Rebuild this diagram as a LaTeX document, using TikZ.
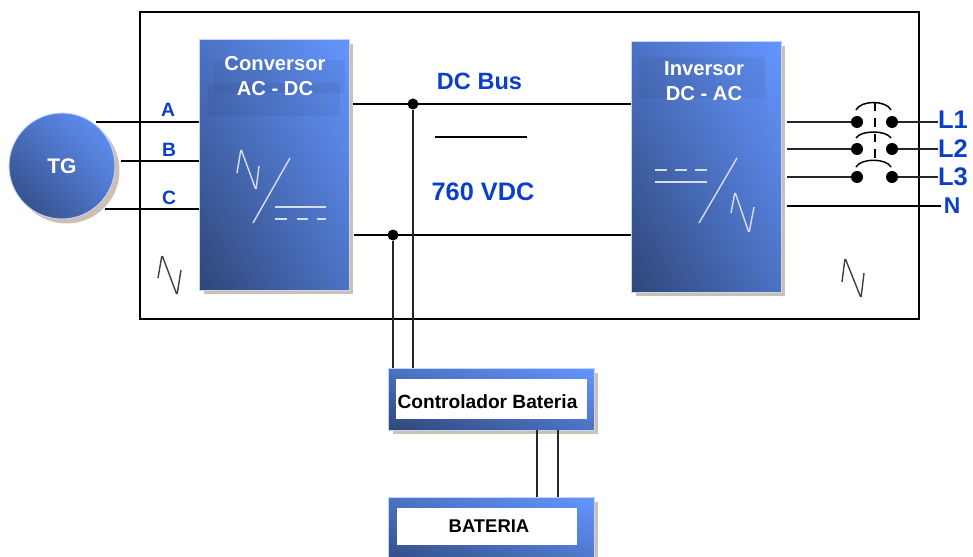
\documentclass[tikz,border=0pt]{standalone}
\usepackage{fontspec}
\setmainfont{Liberation Sans}
\usetikzlibrary{shadows,shadings}

\definecolor{boxlight}{HTML}{6496FF}
\definecolor{boxmid}{HTML}{4C72C4}
\definecolor{boxdark}{HTML}{2F4677}
\definecolor{shadowtan}{HTML}{CDBFB2}
\definecolor{labelblue}{HTML}{0B3FC9}
\definecolor{symgray}{HTML}{D5DDEE}

\tikzset{
    blockbox/.style={rectangle, draw=boxlight!40!white, line width=0.5pt, inner sep=0pt,
        upper right=boxlight, upper left=boxmid, lower right=boxmid, lower left=boxdark,
        general shadow={fill=shadowtan, shadow xshift=0.09cm, shadow yshift=-0.09cm}},
    whitebox/.style={rectangle, fill=white, inner sep=0pt, font=\bfseries\fontsize{10.9}{13}\selectfont},
    titletext/.style={align=center, text=white, font=\bfseries\fontsize{11.5}{14.3}\selectfont},
    phaselabel/.style={text=labelblue, inner sep=0pt, font=\bfseries\fontsize{11}{13}\selectfont},
    buslabel/.style={text=labelblue, inner sep=0pt, font=\bfseries\fontsize{13.4}{15}\selectfont},
    linelabel/.style={text=labelblue, inner sep=0pt, font=\bfseries\fontsize{14.5}{16}\selectfont},
    patchbox/.style={rectangle, fill=black, fill opacity=0.05, inner sep=0pt},
    dotnode/.style={circle, fill=black, inner sep=0pt, minimum size=0.24cm},
    busdot/.style={circle, fill=black, inner sep=0pt, minimum size=0.22cm},
    wire/.style={draw=black, line width=0.85pt},
    thickwire/.style={draw=black!85, line width=1.5pt},
    symline/.style={draw=symgray, line width=0.8pt},
    wavesym/.style={draw=#1, line width=0.8pt, rounded corners=1pt},
}

\begin{document}
\begin{tikzpicture}[x=0.02cm, y=-0.02cm]
    \useasboundingbox (0,0) rectangle (973,557);

    \node (frame) [draw, line width=0.85pt, rectangle, minimum width=15.58cm, minimum height=6.14cm, inner sep=0pt] at (529.5,165.5) {};

    % blocks
    \node (tg) [blockbox, circle, minimum size=2.12cm] at (62,166) {};
    \node (conv) [blockbox, minimum width=3cm, minimum height=5.02cm] at (274,164.5) {};
    \node (inv) [blockbox, minimum width=3cm, minimum height=5.02cm] at (706,166.5) {};
    \node (ctrl) [blockbox, minimum width=4.12cm, minimum height=1.24cm] at (491,399) {};
    \node (bat) [blockbox, minimum width=4.12cm, minimum height=1.5cm] at (491,534.5) {};

    \node (convpatcha) [patchbox, minimum width=2.62cm, minimum height=0.66cm] at (279.5,76.5) {};
    \node (convpatchb) [patchbox, minimum width=2.64cm, minimum height=0.66cm] at (274,99.5) {};
    \node (invpatch) [patchbox, minimum width=2.52cm, minimum height=0.82cm] at (702,77.5) {};

    \node (ctrlinner) [whitebox, minimum width=3.82cm, minimum height=0.8cm] at (491.5,399) {};
    \node (batinner) [whitebox, minimum width=3.6cm, minimum height=0.74cm] at (487,526.5) {};

    \node (tgtext) [text=white, inner sep=0pt, font=\bfseries\fontsize{12}{14}\selectfont] at (tg) {TG};
    \node (convtext) [titletext] at (275,76) {Conversor\\AC - DC};
    \node (invtext) [titletext] at (704,81) {Inversor\\DC - AC};
    \node (ctrltext) [whitebox, fill=none] at (487.5,402) {Controlador Bateria};
    \node (battext) [whitebox, fill=none, font=\bfseries\fontsize{10.5}{13}\selectfont] at (489,526) {BATERIA};

    % phase wires
    \coordinate (tga) at (96,122);
    \coordinate (tgb) at (121,161);
    \coordinate (tgc) at (105,209);
    \draw[wire] (tga) -- (conv.west |- tga);
    \draw[wire] (tgb) -- (conv.west |- tgb);
    \draw[wire] (tgc) -- (conv.west |- tgc);
    \node (labela) [phaselabel] at (168,110) {A};
    \node (labelb) [phaselabel] at (169,150) {B};
    \node (labelc) [phaselabel] at (169,198) {C};

    % dc bus
    \node (dcpos) [busdot] at (413,104) {};
    \node (dcneg) [busdot] at (393,235) {};
    \draw[wire, shorten <=0.08cm] (conv.east |- dcpos) -- (inv.west |- dcpos);
    \draw[wire, shorten <=0.1cm] (conv.east |- dcneg) -- (inv.west |- dcneg);
    \draw[thickwire] (dcpos) -- (dcpos |- ctrl.north);
    \draw[thickwire] (dcneg) -- (dcneg |- ctrl.north);
    \node (busname) [buslabel] at (479.5,81) {DC Bus};
    \node (busvolt) [buslabel, font=\bfseries\fontsize{14.4}{16}\selectfont] at (483,192) {760 VDC};
    \coordinate (barleft) at (435,137);
    \coordinate (barright) at (527,137);
    \draw[wire] (barleft) -- (barright);

    % battery links
    \coordinate (linka) at (537,430);
    \coordinate (linkb) at (558,430);
    \draw[thickwire] (linka) -- (linka |- bat.north);
    \draw[thickwire] (linkb) -- (linkb |- bat.north);

    % output lines and breaker
    \node (lineone) [linelabel] at (953,120) {L1};
    \node (linetwo) [linelabel] at (953,149) {L2};
    \node (linethree) [linelabel] at (953,177) {L3};
    \node (lineneutral) [linelabel, font=\bfseries\fontsize{13}{15}\selectfont] at (952,206) {N};
    \node (onein) [dotnode] at (857,122) {};
    \node (oneout) [dotnode] at (892,122) {};
    \node (twoin) [dotnode] at (857,149) {};
    \node (twoout) [dotnode] at (892,149) {};
    \node (threein) [dotnode] at (857,177) {};
    \node (threeout) [dotnode] at (892,177) {};
    \draw[thickwire, shorten <=0.12cm] (inv.east |- onein) -- (onein);
    \draw[thickwire, shorten <=0.12cm] (inv.east |- twoin) -- (twoin);
    \draw[thickwire, shorten <=0.12cm] (inv.east |- threein) -- (threein);
    \draw[thickwire] (oneout) -- (oneout -| lineone.west);
    \draw[thickwire] (twoout) -- (twoout -| linetwo.west);
    \draw[thickwire] (threeout) -- (threeout -| linethree.west);
    \draw[wire, shorten <=0.12cm, shorten >=0.04cm] (inv.east |- lineneutral) -- (lineneutral.west);
    \draw[wire] (856,110) .. controls (861,100) and (886,100) .. (891,110);
    \draw[wire] (856,138) .. controls (861,130) and (886,130) .. (891,138);
    \draw[wire] (856,167) .. controls (861,158) and (886,158) .. (891,167);
    \draw[wire, dash pattern=on 5pt off 4pt] (875,102) -- (875,162);

    % ac and dc symbols
    \draw[wavesym=black!75] (158,278) -- (162,255) -- (177,295) -- (181,270);
    \draw[wavesym=black!75] (842,282) -- (845,258) -- (861,298) -- (864,273);
    \draw[wavesym=symgray] (237,173) -- (241,149) -- (256,190) -- (259,166);
    \draw[wavesym=symgray] (731,213) -- (735,192) -- (749,233) -- (754,207);
    \draw[symline] (290,158) -- (253,223);
    \draw[symline] (275,207) -- (326,207);
    \draw[symline] (275,219) -- (287,219);
    \draw[symline] (297,219) -- (308,219);
    \draw[symline] (317,219) -- (326,219);
    \draw[symline] (737,158) -- (699,223);
    \draw[symline] (655,182) -- (707,182);
    \draw[symline] (655,170) -- (667,170);
    \draw[symline] (675,170) -- (687,170);
    \draw[symline] (695,170) -- (707,170);
\end{tikzpicture}
\end{document}
